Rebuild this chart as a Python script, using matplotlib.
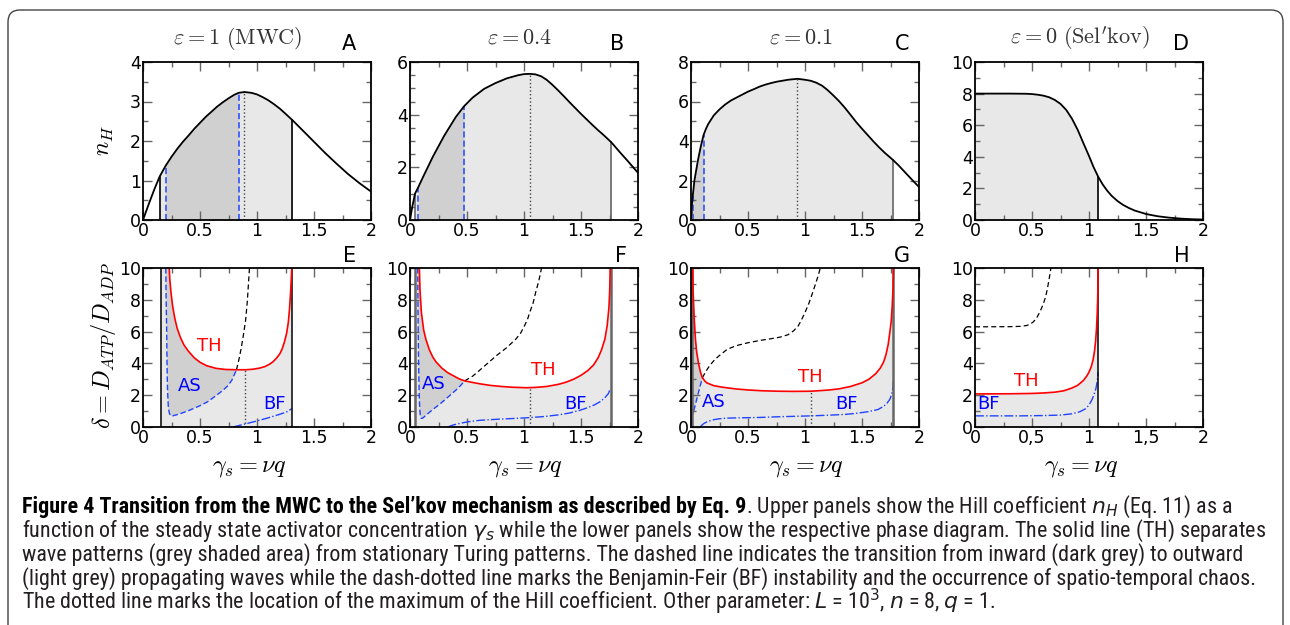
import numpy as np
import matplotlib.pyplot as plt
from matplotlib.patches import FancyBboxPatch
from matplotlib.transforms import IdentityTransform
from matplotlib.ticker import MultipleLocator

plt.rcParams['mathtext.fontset'] = 'cm'
plt.rcParams['font.family'] = ['DejaVu Sans']
plt.rcParams['xtick.direction'] = 'in'
plt.rcParams['ytick.direction'] = 'in'
plt.rcParams['xtick.top'] = True
plt.rcParams['ytick.right'] = True

# ---- top row: Hill coefficient n_H vs gamma_s ----
x_a = [0, 0.05, 0.1, 0.146, 0.2, 0.25, 0.3, 0.35, 0.4, 0.45, 0.5, 0.55, 0.6, 0.65, 0.7, 0.75, 0.8, 0.84, 0.89,
       0.95, 1.0, 1.05, 1.1, 1.15, 1.2, 1.25, 1.31, 1.4, 1.5, 1.6, 1.7, 1.8, 1.9, 2.0]
n_a = [0, 0.4, 0.78, 1.1, 1.38, 1.6, 1.8, 1.98, 2.14, 2.31, 2.46, 2.61, 2.74, 2.87, 2.98, 3.08, 3.17, 3.22, 3.24,
       3.22, 3.18, 3.11, 3.03, 2.93, 2.82, 2.69, 2.53, 2.27, 1.98, 1.69, 1.42, 1.16, 0.93, 0.72]
x_b = [0, 0.02, 0.044, 0.073, 0.1, 0.125, 0.15, 0.2, 0.25, 0.3, 0.35, 0.4, 0.474, 0.55, 0.65, 0.75, 0.85, 0.95,
       1.0, 1.054, 1.1, 1.15, 1.2, 1.25, 1.3, 1.35, 1.4, 1.45, 1.5, 1.55, 1.6, 1.65, 1.7, 1.766, 1.8, 1.85, 1.9,
       1.95, 2.0]
n_b = [0, 0.5, 1.0, 1.25, 1.5, 1.73, 1.95, 2.4, 2.8, 3.2, 3.55, 3.9, 4.32, 4.65, 4.98, 5.2, 5.38, 5.5,
       5.54, 5.55, 5.53, 5.46, 5.32, 5.13, 4.92, 4.7, 4.47, 4.25, 4.03, 3.82, 3.61, 3.41, 3.22, 2.95, 2.78, 2.53,
       2.29, 2.04, 1.79]
x_c = [0, 0.008, 0.015, 0.03, 0.06, 0.085, 0.11, 0.13, 0.15, 0.2, 0.25, 0.3, 0.35, 0.4, 0.5, 0.55, 0.6, 0.65,
       0.7, 0.75, 0.8, 0.85, 0.934, 1.0, 1.05, 1.1, 1.15, 1.2, 1.25, 1.3, 1.35, 1.4, 1.45, 1.5, 1.55, 1.6, 1.65,
       1.7, 1.77, 1.82, 1.88, 1.94, 2.0]
n_c = [0, 0.8, 1.2, 2.0, 3.0, 3.7, 4.3, 4.6, 4.85, 5.3, 5.6, 5.85, 6.05, 6.2, 6.5, 6.62, 6.75, 6.85,
       6.93, 7.0, 7.05, 7.1, 7.15, 7.1, 7.05, 6.95, 6.8, 6.57, 6.3, 6.01, 5.68, 5.32, 4.95, 4.62, 4.3, 3.98, 3.68,
       3.4, 3.05, 2.77, 2.4, 2.03, 1.67]
x_d = [0, 0.3, 0.45, 0.5, 0.55, 0.6, 0.65, 0.7, 0.75, 0.8, 0.85, 0.9, 0.95, 1.0, 1.04, 1.08, 1.12, 1.16, 1.2,
       1.25, 1.3, 1.35, 1.4, 1.5, 1.6, 1.7, 1.8, 1.9, 2.0]
n_d = [8, 8, 7.99, 7.97, 7.93, 7.87, 7.77, 7.6, 7.35, 6.97, 6.42, 5.72, 4.88, 4.05, 3.35, 2.75, 2.25, 1.85, 1.52,
       1.2, 0.95, 0.76, 0.6, 0.38, 0.24, 0.15, 0.09, 0.05, 0.03]

# wave region limits, inward-wave limits, location of n_H maximum
top_lo = [0.146, 0.044, 0.008, 0.0]
top_hi = [1.31, 1.766, 1.77, 1.08]
top_in = [(0.2, 0.84), (0.073, 0.474), (0.015, 0.11), None]
top_max = [0.89, 1.054, 0.934, None]
top_ymax = [4, 6, 8, 10]
top_titles = [r'$\varepsilon = 1\ (\mathrm{MWC})$', r'$\varepsilon = 0.4$', r'$\varepsilon = 0.1$',
              r"$\varepsilon = 0\ (\mathrm{Sel}'\mathrm{kov})$"]

# ---- bottom row: phase diagrams (TH solid, AS dashed, black dashed, BF dash-dot) ----
th_e_x = [0.23, 0.235, 0.245, 0.26, 0.28, 0.3, 0.33, 0.36, 0.4, 0.45, 0.5, 0.56, 0.64, 0.72, 0.82, 0.9, 0.96,
          1.02, 1.07, 1.11, 1.14, 1.17, 1.2, 1.22, 1.24, 1.26, 1.275, 1.285, 1.295, 1.3, 1.305]
th_e_y = [10, 9.3, 8.5, 7.6, 6.8, 6.2, 5.6, 5.15, 4.75, 4.35, 4.07, 3.85, 3.69, 3.62, 3.6, 3.6, 3.63,
          3.7, 3.8, 3.95, 4.1, 4.32, 4.6, 4.9, 5.33, 5.9, 6.6, 7.4, 8.5, 9.2, 10]
as_e_x = [0.2, 0.203, 0.207, 0.21, 0.213, 0.217, 0.222, 0.23, 0.24, 0.26, 0.32, 0.4, 0.5, 0.57, 0.64, 0.7,
          0.745, 0.78, 0.82]
as_e_y = [10, 8, 6.4, 4.5, 3.0, 2.0, 1.3, 0.9, 0.72, 0.7, 0.82, 1.03, 1.34, 1.6, 1.97, 2.3, 2.6, 2.95, 3.6]
bd_e_x = [0.82, 0.84, 0.86, 0.88, 0.9, 0.915, 0.934]
bd_e_y = [3.6, 4.2, 4.9, 5.75, 6.7, 7.9, 10]
bf_e_x = [0.79, 0.9, 1.0, 1.1, 1.2, 1.26, 1.305]
bf_e_y = [0.0, 0.2, 0.38, 0.58, 0.8, 0.95, 1.15]

th_f_x = [0.082, 0.088, 0.1, 0.12, 0.14, 0.17, 0.2, 0.23, 0.28, 0.33, 0.376, 0.43, 0.48, 0.55, 0.61, 0.7, 0.8,
          0.9, 1.02, 1.1, 1.2, 1.3, 1.37, 1.44, 1.5, 1.56, 1.61, 1.65, 1.68, 1.71, 1.73, 1.745, 1.752, 1.756]
th_f_y = [10, 8.6, 7.2, 6.1, 5.5, 4.85, 4.4, 4.08, 3.7, 3.42, 3.24, 3.03, 2.9, 2.8, 2.72, 2.62, 2.55,
          2.5, 2.47, 2.49, 2.55, 2.68, 2.82, 3.02, 3.25, 3.55, 3.9, 4.35, 4.85, 5.54, 6.4, 7.5, 8.6, 10]
as_f_x = [0.068, 0.07, 0.072, 0.075, 0.078, 0.081, 0.085, 0.09, 0.097, 0.11, 0.15, 0.2, 0.26, 0.317, 0.36,
          0.4, 0.44, 0.48]
as_f_y = [10, 7.5, 6, 4.2, 3, 2, 1.2, 0.75, 0.55, 0.55, 0.8, 1.1, 1.43, 1.78, 2.05, 2.3, 2.58, 2.9]
bd_f_x = [0.48, 0.55, 0.6, 0.68, 0.76, 0.85, 0.93, 0.97, 1.0, 1.03, 1.05, 1.08, 1.1, 1.13, 1.154]
bd_f_y = [2.9, 3.2, 3.5, 4.0, 4.5, 5.0, 5.54, 5.9, 6.3, 6.75, 7.2, 7.8, 8.4, 9.2, 10]
bf_f_x = [0.33, 0.38, 0.45, 0.52, 0.61, 0.7, 0.8, 0.92, 1.05, 1.18, 1.3, 1.4, 1.49, 1.56, 1.62, 1.67, 1.71,
          1.74, 1.756]
bf_f_y = [0.0, 0.13, 0.25, 0.34, 0.42, 0.46, 0.5, 0.54, 0.59, 0.66, 0.76, 0.88, 1.05, 1.22, 1.4, 1.6, 1.85,
          2.1, 2.4]

th_g_x = [0.015, 0.018, 0.022, 0.028, 0.038, 0.05, 0.068, 0.085, 0.10, 0.12, 0.14, 0.2, 0.26, 0.32, 0.4, 0.5,
          0.62, 0.76, 0.9, 1.05, 1.2, 1.3, 1.4, 1.5, 1.56, 1.62, 1.66, 1.69, 1.71, 1.73, 1.745, 1.756, 1.765,
          1.772, 1.777]
th_g_y = [10, 8.7, 7.9, 6.9, 5.6, 4.7, 3.92, 3.4, 3.1, 2.9, 2.77, 2.6, 2.52, 2.46, 2.39, 2.33,
          2.28, 2.25, 2.24, 2.25, 2.32, 2.4, 2.55, 2.78, 3.0, 3.35, 3.7, 4.1, 4.54, 5.2, 6.0, 6.63, 7.6,
          8.7, 10]
as_g_x = [0.003, 0.005, 0.007, 0.009, 0.011, 0.013, 0.015, 0.025, 0.04, 0.055, 0.07, 0.085, 0.10]
as_g_y = [10, 8.2, 6.3, 4.5, 3.0, 1.7, 0.8, 1.05, 1.45, 1.88, 2.3, 2.7, 3.1]
bd_g_x = [0.10, 0.13, 0.17, 0.21, 0.25, 0.32, 0.4, 0.5, 0.61, 0.7, 0.78, 0.85, 0.9, 0.94, 0.97, 1.0, 1.03,
          1.06, 1.09, 1.115, 1.134]
bd_g_y = [3.1, 3.5, 3.92, 4.25, 4.5, 4.9, 5.12, 5.3, 5.45, 5.55, 5.65, 5.8, 6.05, 6.35, 6.75, 7.2, 7.7,
          8.3, 8.95, 9.5, 10]
bf_g_x = [0.08, 0.1, 0.12, 0.15, 0.2, 0.25, 0.32, 0.45, 0.6, 0.75, 0.9, 1.05, 1.2, 1.35, 1.45, 1.55, 1.64,
          1.69, 1.72, 1.745, 1.762, 1.772, 1.777]
bf_g_y = [0.0, 0.15, 0.25, 0.36, 0.46, 0.52, 0.56, 0.58, 0.6, 0.64, 0.67, 0.7, 0.74, 0.79, 0.86, 0.96, 1.1,
          1.3, 1.5, 1.75, 2.1, 2.5, 2.98]

th_h_x = [0, 0.3, 0.5, 0.6, 0.7, 0.78, 0.85, 0.9, 0.95, 0.98, 1.0, 1.02, 1.035, 1.048, 1.058, 1.066, 1.072,
          1.076, 1.079, 1.08]
th_h_y = [2.08, 2.09, 2.11, 2.14, 2.19, 2.28, 2.45, 2.62, 2.92, 3.2, 3.45, 3.8, 4.2, 4.75, 5.4, 6.2, 7.1,
          8.0, 9.0, 10]
bd_h_x = [0, 0.3, 0.4, 0.45, 0.48, 0.51, 0.54, 0.57, 0.6, 0.62, 0.635, 0.65, 0.666]
bd_h_y = [6.3, 6.31, 6.33, 6.38, 6.45, 6.6, 6.85, 7.25, 7.75, 8.2, 8.7, 9.3, 10]
bf_h_x = [0, 0.4, 0.6, 0.75, 0.85, 0.92, 0.97, 1.0, 1.025, 1.045, 1.06, 1.072, 1.08]
bf_h_y = [0.7, 0.7, 0.72, 0.75, 0.83, 0.96, 1.15, 1.38, 1.7, 2.05, 2.4, 2.85, 3.44]

bot_lo = [0.154, 0.044, 0.005, 0.0]
bot_hi = [1.305, 1.765, 1.771, 1.08]
bot_max = [0.894, 1.05, 1.05, None]
bot_max_th = [3.6, 2.47, 2.25, None]
lab_th = [(0.58, 5.1), (1.17, 3.56), (1.05, 3.14), (0.45, 2.92)]
lab_as = [(0.41, 2.6), (0.21, 2.7), (0.2, 1.57), None]
lab_bf = [(1.15, 1.45), (1.45, 1.46), (1.36, 1.46), (0.12, 1.46)]

letters_top = ['A', 'B', 'C', 'D']
letters_bot = ['E', 'F', 'G', 'H']

W, H = 1290, 625
fig = plt.figure(figsize=(12.9, 6.25), dpi=100)


def fx(x):
    return x / W


def fy(y):
    return 1 - y / H


LIGHT = '#e8e8e8'
DARK = '#d0d0d0'
BLUE = '#2244ff'
ax_left = [143, 410, 691, 975]
ax_w = 228


def style(ax, ymax, ymaj, ymin, comma=False):
    ax.set_xlim(0, 2)
    ax.set_ylim(0, ymax)
    ax.xaxis.set_minor_locator(MultipleLocator(0.25))
    ax.yaxis.set_major_locator(MultipleLocator(ymaj))
    ax.yaxis.set_minor_locator(MultipleLocator(ymin))
    ax.tick_params(which='major', length=6.5, width=1, color='#666', labelsize=12.5, pad=1.5)
    ax.tick_params(which='minor', length=3.5, width=1, color='#666')
    ax.set_xticks([0, 0.5, 1, 1.5, 2])
    if comma:
        ax.set_xticklabels(['0', '0,5', '1', '1,5', '2'])
    else:
        ax.set_xticklabels(['0', '0.5', '1', '1.5', '2'])
    for s in ax.spines.values():
        s.set_linewidth(1.3)


top_x = [x_a, x_b, x_c, x_d]
top_n = [n_a, n_b, n_c, n_d]
vcol_top = ['k', '#666', '#666', 'k']
for i in range(4):
    ax = fig.add_axes([fx(ax_left[i]), fy(220), ax_w / W, 158 / H])
    x = np.array(top_x[i])
    n = np.array(top_n[i])
    ax.fill_between(x, 0, n, where=(x >= top_lo[i]) & (x <= top_hi[i]), color=LIGHT, lw=0)
    if top_in[i] is not None:
        a, b = top_in[i]
        ax.fill_between(x, 0, n, where=(x >= a) & (x <= b), color=DARK, lw=0)
        for xv in (a, b):
            ax.plot([xv, xv], [0, np.interp(xv, x, n)], color=BLUE, ls=(0, (4, 2)), lw=1.1)
    if top_max[i] is not None:
        ax.plot([top_max[i]] * 2, [0, np.interp(top_max[i], x, n)], color='#444', ls=':', lw=1)
    for xv in (top_lo[i], top_hi[i]):
        if xv > 0:
            ax.plot([xv, xv], [0, np.interp(xv, x, n)], color=vcol_top[i], lw=1.2)
    ax.plot(x, n, color='k', lw=1.3)
    style(ax, top_ymax[i], 1 if i == 0 else 2, 0.5 if i < 2 else 1)

# titles / panel letters
title_cx = [238, 520, 801, 1080]
for i in range(4):
    fig.text(fx(title_cx[i]), fy(38), top_titles[i], ha='center', va='center', fontsize=16, color='#333')
let_top_x = [349, 617, 902, 1181]
let_bot_x = [350, 621, 902, 1182]
for i in range(4):
    fig.text(fx(let_top_x[i]), fy(44), letters_top[i], ha='center', va='center', fontsize=15)
    fig.text(fx(let_bot_x[i]), fy(256), letters_bot[i], ha='center', va='center', fontsize=15)

th_x = [th_e_x, th_f_x, th_g_x, th_h_x]
th_y = [th_e_y, th_f_y, th_g_y, th_h_y]
as_x = [as_e_x, as_f_x, as_g_x, None]
as_y = [as_e_y, as_f_y, as_g_y, None]
bd_x = [bd_e_x, bd_f_x, bd_g_x, bd_h_x]
bd_y = [bd_e_y, bd_f_y, bd_g_y, bd_h_y]
bf_x = [bf_e_x, bf_f_x, bf_g_x, bf_h_x]
bf_y = [bf_e_y, bf_f_y, bf_g_y, bf_h_y]
vcol_bot = ['k', '#666', '#666', 'k']
vlw_bot = [1.1, 1.8, 1.8, 1.1]
xlab_cx = [249, 525, 806, 1081]

for i in range(4):
    ax = fig.add_axes([fx(ax_left[i]), fy(427), ax_w / W, 159 / H])
    tx, ty = th_x[i], th_y[i]
    lo, hi = bot_lo[i], bot_hi[i]
    y0 = 10 if tx[0] > lo else ty[0]
    ax.fill([lo, lo] + tx + [hi], [0, y0] + ty + [0], color=LIGHT, lw=0)
    if as_x[i] is not None:
        mx = as_x[i][-1]
        back_x = [v for v in tx if v < mx][::-1]
        back_y = [ty[k] for k in range(len(tx)) if tx[k] < mx][::-1]
        ax.fill(as_x[i] + back_x, as_y[i] + back_y, color=DARK, lw=0)
        ax.plot(as_x[i], as_y[i], color=BLUE, ls=(0, (4, 2)), lw=1.0)
    if bot_max[i] is not None:
        ax.plot([bot_max[i]] * 2, [0, bot_max_th[i]], color='#444', ls=':', lw=1)
    ax.plot(bd_x[i], bd_y[i], color='k', ls=(0, (4, 2.5)), lw=0.9)
    ax.plot(bf_x[i], bf_y[i], color=BLUE, ls='-.', lw=1.0)
    for xv in (lo, hi):
        if xv > 0.001:
            ax.plot([xv, xv], [0, 10], color=vcol_bot[i], lw=vlw_bot[i])
    ax.plot(tx, ty, color='red', lw=1.2)
    ax.text(*lab_th[i], 'TH', color='red', fontsize=13, ha='center', va='center')
    if lab_as[i] is not None:
        ax.text(*lab_as[i], 'AS', color='blue', fontsize=13, ha='center', va='center')
    ax.text(*lab_bf[i], 'BF', color='blue', fontsize=13, ha='center', va='center')
    style(ax, 10, 2, 1, comma=(i == 3))
    fig.text(fx(xlab_cx[i]), fy(467), r'$\gamma_s = \nu q$', ha='center', va='center', fontsize=17.5)

fig.text(fx(104), fy(141), r'$n_H$', rotation=90, ha='center', va='center', fontsize=17)
fig.text(fx(104), fy(345), r'$\delta = D_{ATP}/D_{ADP}$', rotation=90, ha='center', va='center', fontsize=17.5)

# border
box = FancyBboxPatch((8, -30), 1275, 625 - 10 + 30, boxstyle='round,pad=0,rounding_size=12',
                     transform=IdentityTransform(), fill=False, ec='#444', lw=1)
fig.patches.append(box)

# caption
cap_font = ['Roboto Condensed', 'Liberation Sans Narrow', 'DejaVu Sans']
cap_col = '#231f20'
cap_bold = 'Figure 4 Transition from the MWC to the Sel\u2019kov mechanism as described by Eq. 9'
cap_lines = [
    '. Upper panels show the Hill coefficient $n_H$ (Eq. 11) as a',
    'function of the steady state activator concentration $\\gamma_s$ while the lower panels show the respective phase diagram. The solid line (TH) separates',
    'wave patterns (grey shaded area) from stationary Turing patterns. The dashed line indicates the transition from inward (dark grey) to outward',
    '(light grey) propagating waves while the dash-dotted line marks the Benjamin-Feir (BF) instability and the occurrence of spatio-temporal chaos.',
    'The dotted line marks the location of the maximum of the Hill coefficient. Other parameter: $L$ = 10$^3$, $n$ = 8, $q$ = 1.',
]
baselines = [513, 537, 561, 585, 609]
renderer = fig.canvas.get_renderer()


def width_at(s, size, **kw):
    t = fig.text(0, 0, s, fontsize=size, family=cap_font, math_fontfamily='dejavusans', **kw)
    w = t.get_window_extent(renderer).width
    t.remove()
    return w


w1 = width_at(cap_bold, 12, weight='bold') + width_at(cap_lines[0], 12)
w2 = width_at(cap_lines[1], 12)
cs = 12 * min(1246 / w1, 1241 / w2)

tb = fig.text(fx(22), fy(baselines[0]), cap_bold, fontsize=cs, family=cap_font, weight='bold',
              color='k', va='baseline')
bw = tb.get_window_extent(renderer).width
fig.text(fx(22 + bw), fy(baselines[0]), cap_lines[0], fontsize=cs, family=cap_font, color=cap_col,
         va='baseline', math_fontfamily='dejavusans')
for k in range(1, 5):
    fig.text(fx(22), fy(baselines[k]), cap_lines[k], fontsize=cs, family=cap_font, color=cap_col,
             va='baseline', math_fontfamily='dejavusans')

fig.savefig('out.png', dpi=100)
